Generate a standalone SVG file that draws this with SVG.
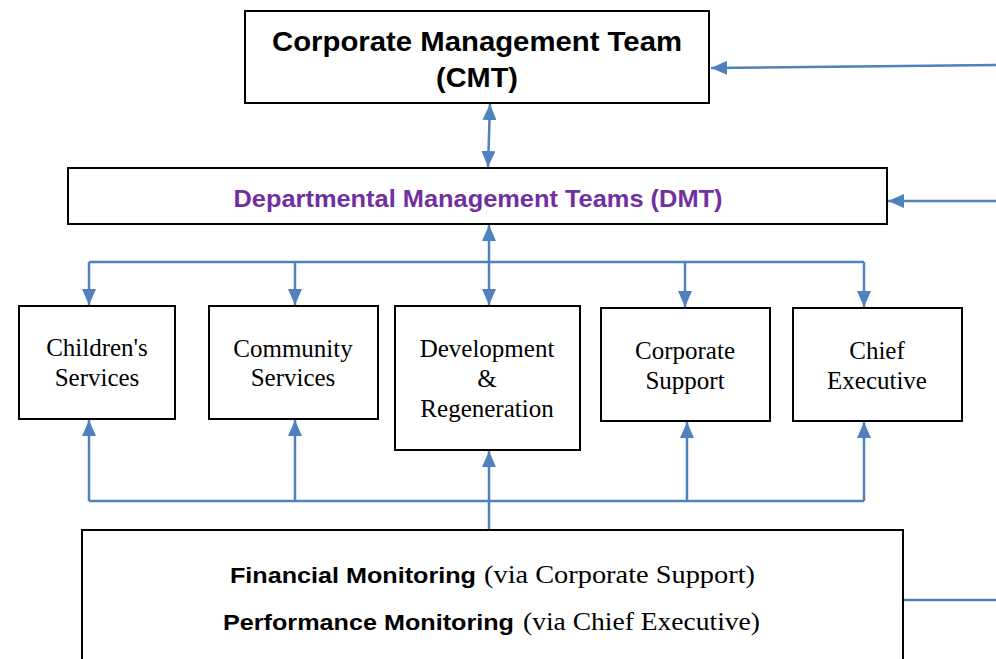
<svg xmlns="http://www.w3.org/2000/svg" width="996" height="659" viewBox="0 0 996 659">
  <style>
    .box { fill: #ffffff; stroke: #000000; stroke-width: 2; }
    .wire { fill: none; stroke: #4F81BD; stroke-width: 2.5; }
    .head { fill: #4F81BD; }
    .title { font-family: "Liberation Sans", Arial, sans-serif; font-weight: bold; fill: #000000; }
    .dmt { font-family: "Liberation Sans", Arial, sans-serif; font-weight: bold; fill: #7030A0; }
    .dept { font-family: "Liberation Serif", "Times New Roman", serif; font-size: 25px; fill: #000000; text-anchor: middle; }
    .mon { font-family: "Liberation Sans", Arial, sans-serif; font-weight: bold; font-size: 22px; fill: #000000; }
    .via { font-family: "Liberation Serif", "Times New Roman", serif; font-size: 25px; fill: #000000; }
  </style>
  <defs>
    <marker id="arrow" viewBox="0 0 16 14" refX="16" refY="7" markerWidth="16" markerHeight="14" markerUnits="userSpaceOnUse" orient="auto-start-reverse">
      <path class="head" d="M0,0 L16,7 L0,14 Z"/>
    </marker>
  </defs>

  <rect width="996" height="659" fill="#ffffff"/>

  <!-- connectors -->
  <g id="connectors">
    <!-- incoming feeds on the right -->
    <path class="wire" d="M996,65 L711,68" marker-end="url(#arrow)"/>
    <path class="wire" d="M996,201 L888,201" marker-end="url(#arrow)"/>
    <!-- CMT <-> DMT -->
    <path class="wire" d="M490,104 L488,167" marker-start="url(#arrow)" marker-end="url(#arrow)"/>
    <!-- DMT <-> departments -->
    <path class="wire" d="M489,225 L489,305" marker-start="url(#arrow)" marker-end="url(#arrow)"/>
    <!-- top distribution bus -->
    <path class="wire" d="M89,262 L864,262"/>
    <path class="wire" d="M89,262 L89,305" marker-end="url(#arrow)"/>
    <path class="wire" d="M295,262 L295,305" marker-end="url(#arrow)"/>
    <path class="wire" d="M685,262 L685,307" marker-end="url(#arrow)"/>
    <path class="wire" d="M864,262 L864,307" marker-end="url(#arrow)"/>
    <!-- bottom monitoring bus -->
    <path class="wire" d="M89,501 L864,501"/>
    <path class="wire" d="M89,501 L89,420" marker-end="url(#arrow)"/>
    <path class="wire" d="M295,501 L295,420" marker-end="url(#arrow)"/>
    <path class="wire" d="M687,501 L687,422" marker-end="url(#arrow)"/>
    <path class="wire" d="M864,501 L864,422" marker-end="url(#arrow)"/>
    <path class="wire" d="M489,530 L489,451" marker-end="url(#arrow)"/>
    <!-- monitoring feed out to the right -->
    <path class="wire" d="M904,600 L996,600"/>
  </g>

  <g id="cmt">
    <rect class="box" x="245" y="11" width="464" height="92"/>
    <text class="title" x="477" y="51" font-size="27" text-anchor="middle" textLength="410" lengthAdjust="spacingAndGlyphs">Corporate Management Team</text>
    <text class="title" x="477" y="87" font-size="27" text-anchor="middle" textLength="82" lengthAdjust="spacingAndGlyphs">(CMT)</text>
  </g>

  <g id="dmt">
    <rect class="box" x="68" y="168" width="819" height="56"/>
    <text class="dmt" x="478" y="207" font-size="24" text-anchor="middle" textLength="489" lengthAdjust="spacingAndGlyphs">Departmental Management Teams (DMT)</text>
  </g>

  <g id="childrens-services">
    <rect class="box" x="19" y="306" width="156" height="113"/>
    <text class="dept" x="97" y="356">Children's</text>
    <text class="dept" x="97" y="386">Services</text>
  </g>

  <g id="community-services">
    <rect class="box" x="209" y="306" width="169" height="113"/>
    <text class="dept" x="293" y="357">Community</text>
    <text class="dept" x="293" y="386">Services</text>
  </g>

  <g id="development-regeneration">
    <rect class="box" x="395" y="306" width="185" height="144"/>
    <text class="dept" x="487" y="357">Development</text>
    <text class="dept" x="487" y="387">&amp;</text>
    <text class="dept" x="487" y="417">Regeneration</text>
  </g>

  <g id="corporate-support">
    <rect class="box" x="601" y="308" width="169" height="113"/>
    <text class="dept" x="685" y="359">Corporate</text>
    <text class="dept" x="685" y="389">Support</text>
  </g>

  <g id="chief-executive">
    <rect class="box" x="793" y="308" width="169" height="113"/>
    <text class="dept" x="877" y="359">Chief</text>
    <text class="dept" x="877" y="389">Executive</text>
  </g>

  <g id="monitoring">
    <rect class="box" x="82" y="530" width="821" height="140"/>
    <text class="mon" x="230" y="583" textLength="246" lengthAdjust="spacingAndGlyphs">Financial Monitoring</text>
    <text class="via" x="484" y="583" textLength="271" lengthAdjust="spacingAndGlyphs">(via Corporate Support)</text>
    <text class="mon" x="223" y="630" textLength="291" lengthAdjust="spacingAndGlyphs">Performance Monitoring</text>
    <text class="via" x="523" y="630" textLength="237" lengthAdjust="spacingAndGlyphs">(via Chief Executive)</text>
  </g>
</svg>
